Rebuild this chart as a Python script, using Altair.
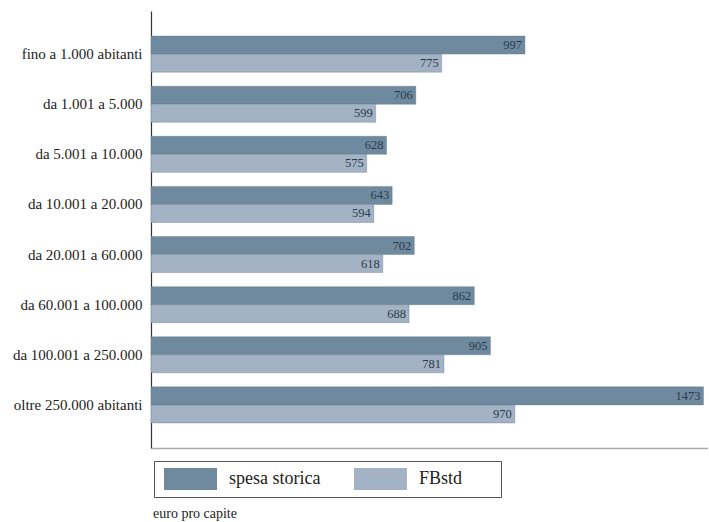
import altair as alt
import pandas as pd

categories = [
    "fino a 1.000 abitanti",
    "da 1.001 a 5.000",
    "da 5.001 a 10.000",
    "da 10.001 a 20.000",
    "da 20.001 a 60.000",
    "da 60.001 a 100.000",
    "da 100.001 a 250.000",
    "oltre 250.000 abitanti",
]
spesa_storica = [997, 706, 628, 643, 702, 862, 905, 1473]
fbstd = [775, 599, 575, 594, 618, 688, 781, 970]
series = ["spesa storica", "FBstd"]
colors = ["#6f8a9e", "#a3b3c5"]

rows = []
for c, a, b in zip(categories, spesa_storica, fbstd):
    rows.append({"cat": c, "serie": series[0], "val": a})
    rows.append({"cat": c, "serie": series[1], "val": b})
df = pd.DataFrame(rows)

font = "'Liberation Serif', 'Times New Roman', serif"

y_enc = alt.Y("cat:N", sort=categories, title=None,
              scale=alt.Scale(paddingInner=0.28, paddingOuter=0.5),
              axis=alt.Axis(labelFont=font, labelFontSize=15, labelColor="#222",
                            ticks=False, labelPadding=9, domainColor="#333",
                            domainWidth=1.2, labelLimit=200))
x_enc = alt.X("val:Q", title=None, scale=alt.Scale(domain=[0, 1485], nice=False),
              axis=alt.Axis(labels=False, ticks=False, grid=False,
                            domainColor="#aaa", domainWidth=1.5))
yoff = alt.YOffset("serie:N", sort=series)

bars = alt.Chart(df).mark_bar(stroke="#5f6f7d", strokeWidth=0.6, strokeOpacity=0.6).encode(
    x=x_enc, y=y_enc, yOffset=yoff,
    color=alt.Color("serie:N", sort=series,
                    scale=alt.Scale(domain=series, range=colors),
                    legend=alt.Legend(
                        title=None, orient="none", direction="horizontal",
                        legendX=3, legendY=13 + 437,
                        symbolType="M-0.727,-1H4.09V1H-0.727Z", symbolSize=484,
                        symbolStrokeWidth=0, symbolOpacity=1,
                        labelFont=font, labelFontSize=18, labelColor="#222",
                        labelOffset=46, columnPadding=30, padding=7,
                        labelExpr="datum.value == 'FBstd' ? 'FBstd\u2003\u2800' : datum.label",
                        strokeColor="#555", fillColor="white",
                        labelLimit=400)),
)

labels = alt.Chart(df).mark_text(align="right", dx=-3, font=font, fontSize=12.5,
                                 color="#2a3a4c").encode(
    x="val:Q",
    y=alt.Y("cat:N", sort=categories),
    yOffset=yoff,
    text="val:Q",
)

chart = (bars + labels).properties(
    width=557, height=437,
    background="white",
    title=alt.TitleParams("euro pro capite", orient="bottom", anchor="start",
                          frame="group", dx=2,
                          font=font, fontSize=14, fontWeight="normal",
                          color="#222", offset=9),
    padding={"left": 12, "top": 11, "right": 0, "bottom": 0},
).configure(font=font).configure_axis(labelFont=font).configure_text(font=font).configure_view(stroke=None)

chart.save("out.html", embed_options={"renderer": "svg", "actions": False})
